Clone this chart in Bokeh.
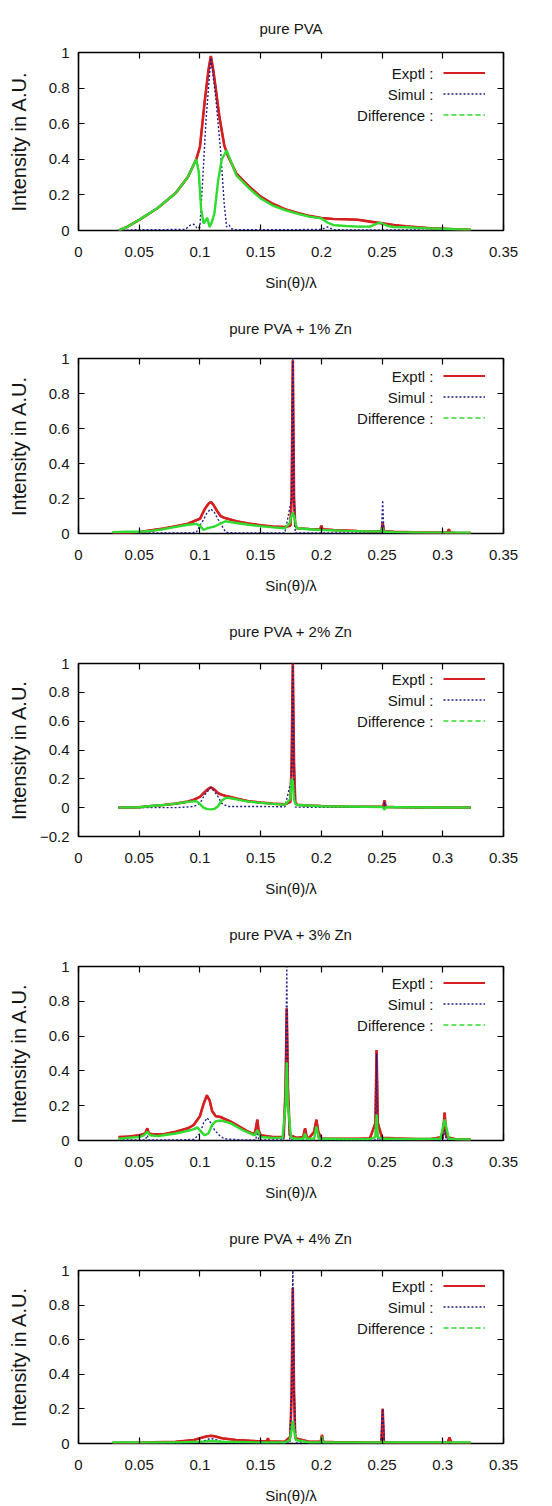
from bokeh.plotting import figure
from bokeh.models import Range1d, FixedTicker, LinearAxis, Legend, LegendItem, Label
from bokeh.layouts import column
from bokeh.embed import file_html
from bokeh.resources import INLINE

# ---------------- data ----------------
titles = ["pure PVA", "pure PVA + 1% Zn", "pure PVA + 2% Zn", "pure PVA + 3% Zn", "pure PVA + 4% Zn"]
series_names = ["Exptl :", "Simul :", "Difference :"]
x_label = "Sin(\u03b8)/\u03bb"
y_label = "Intensity in A.U."
x_ticks = [0, 0.05, 0.1, 0.15, 0.2, 0.25, 0.3, 0.35]
x_tick_labels = ["0", "0.05", "0.1", "0.15", "0.2", "0.25", "0.3", "0.35"]
y_ticks = [-0.2, 0, 0.2, 0.4, 0.6, 0.8, 1]
y_tick_labels = ["\u22120.2", "0", "0.2", "0.4", "0.6", "0.8", "1"]
y_min = [0, 0, -0.2, 0, 0]

# pure PVA
exp0_x = [0.033,0.04,0.05,0.065,0.08,0.09,0.097,0.1,0.104,0.107,0.109,0.111,0.113,0.116,0.12,0.123,0.13,0.14,0.15,0.16,0.17,0.18,0.19,0.2,0.21,0.22,0.23,0.24,0.25,0.26,0.27,0.28,0.29,0.3,0.31,0.323]
exp0_y = [0.0,0.02,0.06,0.125,0.21,0.3,0.4,0.47,0.73,0.9,0.98,0.9,0.8,0.64,0.48,0.42,0.32,0.25,0.19,0.15,0.12,0.1,0.082,0.07,0.065,0.063,0.06,0.05,0.04,0.03,0.023,0.018,0.013,0.01,0.007,0.004]
sim0_x = [0.033,0.05,0.07,0.088,0.092,0.095,0.098,0.1,0.102,0.105,0.109,0.113,0.117,0.12,0.122,0.124,0.126,0.128,0.15,0.18,0.2,0.205,0.21,0.22,0.25,0.3,0.323]
sim0_y = [0.0,0.005,0.005,0.006,0.03,0.035,0.01,0.02,0.25,0.62,0.97,0.75,0.45,0.15,0.02,0.03,0.01,0.005,0.005,0.005,0.006,0.02,0.005,0.003,0.003,0.002,0.002]
dif0_x = [0.033,0.04,0.05,0.065,0.08,0.09,0.097,0.099,0.101,0.103,0.106,0.108,0.11,0.112,0.115,0.118,0.122,0.126,0.13,0.14,0.15,0.16,0.17,0.18,0.19,0.2,0.205,0.21,0.22,0.23,0.24,0.248,0.255,0.26,0.27,0.28,0.29,0.3,0.31,0.323]
dif0_y = [0.0,0.02,0.06,0.125,0.21,0.3,0.4,0.33,0.12,0.04,0.07,0.02,0.05,0.1,0.28,0.4,0.45,0.38,0.31,0.24,0.18,0.14,0.115,0.095,0.078,0.068,0.045,0.03,0.025,0.022,0.022,0.045,0.025,0.02,0.018,0.015,0.012,0.01,0.007,0.005]

# pure PVA + 1% Zn
exp1_x = [0.028,0.04,0.05,0.06,0.07,0.08,0.09,0.1,0.104,0.107,0.109,0.111,0.114,0.117,0.12,0.13,0.14,0.15,0.16,0.17,0.1745,0.1755,0.1765,0.1775,0.1785,0.18,0.19,0.199,0.2,0.201,0.21,0.22,0.23,0.24,0.2495,0.2505,0.2515,0.26,0.27,0.28,0.29,0.3,0.304,0.305,0.306,0.31,0.323]
exp1_y = [0.0,0.003,0.008,0.018,0.028,0.042,0.056,0.084,0.14,0.17,0.18,0.165,0.13,0.1,0.09,0.07,0.057,0.047,0.04,0.037,0.045,0.2,0.99,0.2,0.045,0.03,0.026,0.024,0.045,0.024,0.02,0.017,0.014,0.012,0.012,0.06,0.012,0.01,0.008,0.006,0.005,0.005,0.005,0.025,0.005,0.004,0.003]
sim1_x = [0.028,0.06,0.09,0.097,0.1,0.103,0.106,0.109,0.112,0.115,0.118,0.121,0.124,0.15,0.17,0.1755,0.1765,0.1775,0.1785,0.2,0.24,0.2495,0.2505,0.2515,0.28,0.323]
sim1_y = [0.002,0.003,0.004,0.006,0.045,0.08,0.12,0.14,0.12,0.08,0.045,0.01,0.004,0.003,0.003,0.2,1.0,0.2,0.003,0.003,0.003,0.003,0.19,0.003,0.002,0.002]
dif1_x = [0.028,0.04,0.05,0.06,0.07,0.08,0.09,0.097,0.1,0.103,0.106,0.109,0.112,0.115,0.118,0.121,0.125,0.13,0.14,0.15,0.16,0.17,0.174,0.1755,0.1765,0.1775,0.179,0.18,0.19,0.2,0.21,0.22,0.24,0.2495,0.2505,0.2515,0.26,0.28,0.3,0.323]
dif1_y = [0.008,0.01,0.01,0.015,0.025,0.038,0.05,0.055,0.045,0.02,0.03,0.035,0.04,0.05,0.06,0.07,0.065,0.06,0.05,0.042,0.035,0.03,0.06,0.1,0.12,0.1,0.05,0.03,0.024,0.02,0.018,0.015,0.012,0.012,0.03,0.01,0.008,0.006,0.005,0.004]

# pure PVA + 2% Zn
exp2_x = [0.033,0.05,0.06,0.07,0.08,0.09,0.095,0.1,0.103,0.106,0.109,0.112,0.115,0.118,0.122,0.13,0.14,0.15,0.16,0.17,0.1745,0.1755,0.1765,0.1775,0.1785,0.18,0.19,0.2,0.22,0.24,0.251,0.252,0.253,0.26,0.28,0.3,0.323]
exp2_y = [0.0,0.003,0.012,0.018,0.028,0.042,0.055,0.075,0.1,0.125,0.14,0.125,0.1,0.09,0.08,0.063,0.045,0.036,0.028,0.023,0.04,0.3,1.0,0.3,0.04,0.02,0.015,0.012,0.008,0.006,0.006,0.05,0.005,0.004,0.002,0.001,0.0]
sim2_x = [0.033,0.08,0.095,0.1,0.104,0.109,0.114,0.118,0.123,0.15,0.17,0.1755,0.1765,0.1775,0.1785,0.2,0.251,0.252,0.253,0.323]
sim2_y = [0.0,0.0,0.008,0.03,0.09,0.14,0.09,0.03,0.008,0.008,0.006,0.2,1.0,0.2,0.004,0.002,0.002,0.04,0.002,0.0]
dif2_x = [0.033,0.05,0.06,0.07,0.08,0.09,0.097,0.1,0.103,0.106,0.109,0.112,0.115,0.118,0.122,0.13,0.14,0.15,0.16,0.17,0.1745,0.1755,0.1765,0.1775,0.1785,0.18,0.2,0.22,0.25,0.251,0.252,0.253,0.26,0.3,0.323]
dif2_y = [0.0,0.003,0.012,0.018,0.028,0.04,0.045,0.025,0.0,-0.01,-0.012,-0.008,0.01,0.05,0.07,0.058,0.042,0.033,0.026,0.021,0.06,0.2,0.18,0.06,0.03,0.018,0.01,0.008,0.005,0.0,-0.015,0.003,0.003,0.001,0.0]

# pure PVA + 3% Zn
exp3_x = [0.033,0.04,0.05,0.055,0.0566,0.058,0.062,0.07,0.08,0.09,0.095,0.1,0.103,0.1057,0.108,0.11,0.113,0.117,0.12,0.125,0.13,0.135,0.14,0.145,0.1463,0.1473,0.1483,0.15,0.16,0.169,0.1705,0.1715,0.1725,0.174,0.18,0.185,0.1866,0.188,0.19,0.194,0.1959,0.1975,0.2,0.21,0.22,0.23,0.24,0.2445,0.2455,0.2465,0.25,0.26,0.27,0.28,0.29,0.3,0.3015,0.303,0.31,0.323]
exp3_y = [0.02,0.022,0.03,0.04,0.07,0.04,0.035,0.036,0.05,0.07,0.09,0.14,0.21,0.26,0.23,0.17,0.14,0.135,0.125,0.11,0.09,0.07,0.05,0.035,0.08,0.12,0.06,0.03,0.02,0.02,0.3,0.76,0.3,0.03,0.015,0.02,0.07,0.02,0.015,0.05,0.12,0.05,0.01,0.01,0.01,0.01,0.012,0.1,0.52,0.1,0.015,0.012,0.01,0.008,0.008,0.02,0.16,0.02,0.008,0.006]
sim3_x = [0.033,0.05,0.055,0.0566,0.058,0.08,0.095,0.1,0.103,0.106,0.109,0.112,0.116,0.12,0.13,0.135,0.146,0.1473,0.1485,0.16,0.169,0.1705,0.1715,0.1725,0.174,0.185,0.1866,0.188,0.194,0.1959,0.198,0.24,0.2445,0.2455,0.2465,0.3,0.3015,0.303,0.323]
sim3_y = [0.003,0.003,0.003,0.03,0.003,0.003,0.006,0.04,0.1,0.13,0.1,0.06,0.03,0.01,0.005,0.003,0.003,0.06,0.003,0.003,0.003,0.3,1.0,0.3,0.003,0.003,0.04,0.003,0.003,0.06,0.003,0.003,0.003,0.5,0.003,0.003,0.06,0.003,0.003]
dif3_x = [0.033,0.04,0.05,0.054,0.0566,0.059,0.065,0.07,0.08,0.09,0.095,0.098,0.101,0.104,0.107,0.11,0.113,0.117,0.12,0.125,0.13,0.135,0.14,0.145,0.1473,0.15,0.16,0.168,0.1705,0.1715,0.1725,0.175,0.18,0.185,0.1866,0.188,0.194,0.1959,0.198,0.2,0.22,0.24,0.2445,0.2455,0.2465,0.25,0.27,0.298,0.3015,0.305,0.31,0.323]
dif3_y = [0.01,0.015,0.02,0.03,0.05,0.03,0.025,0.03,0.04,0.055,0.065,0.075,0.05,0.03,0.04,0.09,0.11,0.115,0.11,0.1,0.08,0.06,0.045,0.03,0.06,0.02,0.015,0.015,0.2,0.45,0.2,0.015,0.01,0.01,0.04,0.01,0.01,0.08,0.01,0.01,0.008,0.008,0.02,0.15,0.02,0.01,0.008,0.01,0.12,0.01,0.008,0.006]

# pure PVA + 4% Zn
exp4_x = [0.028,0.05,0.08,0.095,0.1,0.105,0.109,0.113,0.118,0.13,0.15,0.155,0.156,0.157,0.17,0.1745,0.1755,0.1765,0.1775,0.1785,0.19,0.1995,0.2005,0.2015,0.21,0.24,0.2495,0.2505,0.2515,0.26,0.28,0.304,0.3055,0.307,0.323]
exp4_y = [0.003,0.005,0.01,0.02,0.03,0.04,0.045,0.04,0.03,0.02,0.012,0.012,0.03,0.012,0.01,0.04,0.3,0.9,0.3,0.03,0.01,0.01,0.05,0.01,0.008,0.006,0.006,0.2,0.006,0.005,0.004,0.004,0.035,0.004,0.003]
sim4_x = [0.028,0.1,0.105,0.109,0.114,0.12,0.174,0.1755,0.1765,0.1775,0.179,0.249,0.2505,0.252,0.323]
sim4_y = [0.002,0.003,0.02,0.03,0.02,0.003,0.003,0.3,1.0,0.3,0.003,0.003,0.2,0.003,0.002]
dif4_x = [0.028,0.05,0.08,0.1,0.105,0.109,0.114,0.12,0.15,0.17,0.174,0.1755,0.1765,0.1775,0.179,0.19,0.2,0.2005,0.201,0.22,0.25,0.2505,0.251,0.28,0.3,0.323]
dif4_y = [0.006,0.006,0.006,0.01,0.012,0.015,0.012,0.01,0.006,0.006,0.02,0.08,0.13,0.08,0.02,0.006,0.006,0.04,0.006,0.006,0.006,0.015,0.006,0.006,0.006,0.006]

exp_x = [exp0_x, exp1_x, exp2_x, exp3_x, exp4_x]
exp_y = [exp0_y, exp1_y, exp2_y, exp3_y, exp4_y]
sim_x = [sim0_x, sim1_x, sim2_x, sim3_x, sim4_x]
sim_y = [sim0_y, sim1_y, sim2_y, sim3_y, sim4_y]
dif_x = [dif0_x, dif1_x, dif2_x, dif3_x, dif4_x]
dif_y = [dif0_y, dif1_y, dif2_y, dif3_y, dif4_y]

# ---------------- styling ----------------
FONT = "Liberation Sans"
FS = "15px"
TXT = "#151515"
RED = "#d42020"
BLUE = "#1e1e8e"
GREEN = "#30dc30"
heights = [295, 301, 303, 304, 303]
tops = [52, 62, 66, 66, 66]
title_standoff = [32, 44, 48, 48, 48]
ylabel_standoff = [16, 16, 7, 16, 16]
FRAME_W = 425
FRAME_H = 178


def style_axis(ax, ticks, labels, show_labels=True):
    ax.ticker = FixedTicker(ticks=ticks)
    ax.major_label_overrides = {t: l for t, l in zip(ticks, labels)}
    ax.major_tick_in = 6
    ax.major_tick_out = 0
    ax.major_tick_line_color = "black"
    ax.major_tick_line_width = 1.2
    ax.minor_tick_line_color = None
    ax.axis_line_color = None
    ax.major_label_text_font = FONT
    ax.major_label_text_font_size = FS
    ax.major_label_text_color = TXT if show_labels else None


def make_panel(i):
    h = heights[i]
    p = figure(width=552, height=h, output_backend="svg", toolbar_location=None,
               x_range=Range1d(0, 0.35), y_range=Range1d(y_min[i], 1),
               min_border_left=78, min_border_right=552 - 78 - FRAME_W, min_border_top=tops[i],
               min_border_bottom=h - tops[i] - FRAME_H)
    p.background_fill_color = "white"
    p.border_fill_color = "white"
    p.grid.visible = False
    p.outline_line_color = "black"
    p.outline_line_width = 1.6
    p.outline_line_alpha = 1.0

    p.title.text = titles[i]
    p.title.align = "center"
    p.title.text_font = FONT
    p.title.text_font_size = FS
    p.title.text_font_style = "normal"
    p.title.text_color = TXT
    p.title.standoff = title_standoff[i]

    yt = [t for t in y_ticks if t >= y_min[i] - 1e-9]
    yl = [l for t, l in zip(y_ticks, y_tick_labels) if t >= y_min[i] - 1e-9]

    style_axis(p.xaxis[0], x_ticks, x_tick_labels)
    p.xaxis[0].major_label_standoff = 16
    p.xaxis[0].axis_label = x_label
    p.xaxis[0].axis_label_text_font = FONT
    p.xaxis[0].axis_label_text_font_size = FS
    p.xaxis[0].axis_label_text_font_style = "normal"
    p.xaxis[0].axis_label_text_color = TXT
    p.xaxis[0].axis_label_standoff = 14

    style_axis(p.yaxis[0], yt, yl)
    p.yaxis[0].major_label_standoff = 9
    p.yaxis[0].axis_label = y_label
    p.yaxis[0].axis_label_text_font = FONT
    p.yaxis[0].axis_label_text_font_size = "20px"
    p.yaxis[0].axis_label_text_font_style = "normal"
    p.yaxis[0].axis_label_text_color = TXT
    p.yaxis[0].axis_label_standoff = ylabel_standoff[i]

    top = LinearAxis()
    style_axis(top, x_ticks, x_tick_labels, show_labels=False)
    top.major_label_text_font_size = "0px"
    top.major_label_standoff = 0
    p.add_layout(top, "above")
    right = LinearAxis()
    style_axis(right, yt, yl, show_labels=False)
    right.major_label_text_font_size = "0px"
    right.major_label_standoff = 0
    p.add_layout(right, "right")

    # key-style renderers (same data, hidden under the main curves; used for the key samples)
    k_exp = p.line(exp_x[i], exp_y[i], line_color=RED, line_width=2)
    k_dif = p.line(dif_x[i], dif_y[i], line_color=GREEN, line_width=1.6, line_dash="5 3")

    p.line(exp_x[i], exp_y[i], line_color=RED, line_width=2.6)
    r_sim = p.line(sim_x[i], sim_y[i], line_color=BLUE, line_width=1.4, line_dash="2 2")
    p.line(dif_x[i], dif_y[i], line_color=GREEN, line_width=2.4)

    legend = Legend(items=[LegendItem(label=" ", renderers=[k_exp]),
                           LegendItem(label=" ", renderers=[r_sim]),
                           LegendItem(label=" ", renderers=[k_dif])],
                    location=(365, FRAME_H - 10 - 63),
                    glyph_width=42, glyph_height=21, label_height=21, label_width=0,
                    spacing=0, padding=0, margin=0, label_standoff=0,
                    label_text_font_size="1px",
                    background_fill_alpha=0, border_line_color=None)
    p.add_layout(legend)
    for k, name in enumerate(series_names):
        p.add_layout(Label(x=355, y=FRAME_H - 21 - 21 * k, x_units="screen", y_units="screen",
                           text=name, text_align="right", text_baseline="middle",
                           text_font=FONT, text_font_size=FS, text_color=TXT))
    return p


panels = [make_panel(i) for i in range(5)]
layout = column(*panels, spacing=0)
open("out.html", "w").write(file_html(layout, INLINE))
